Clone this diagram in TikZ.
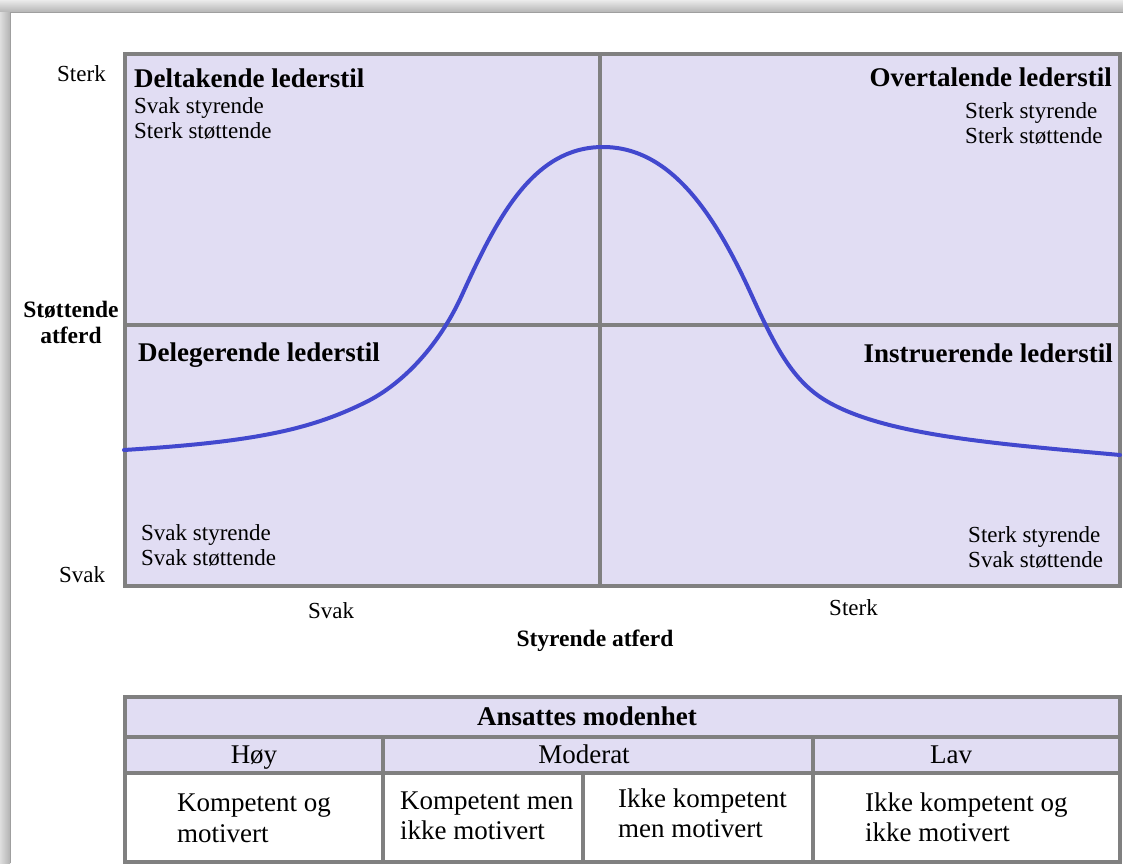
\documentclass[tikz,border=0pt]{standalone}
\usepackage{fontspec}
\setmainfont{Liberation Serif}
\definecolor{lav}{RGB}{225,221,243}
\definecolor{frame}{RGB}{128,128,128}
\definecolor{curveblue}{RGB}{66,72,206}
\begin{document}
\begin{tikzpicture}[x=1pt,y=-1pt,
  ttl/.style={font=\fontsize{27}{30}\selectfont\bfseries, inner sep=0pt},
  axb/.style={font=\fontsize{23.5}{26}\selectfont\bfseries, inner sep=0pt},
  sub/.style={font=\fontsize{23}{25}\selectfont, inner sep=0pt},
  tab/.style={font=\fontsize{27}{30}\selectfont, inner sep=0pt},
  tabb/.style={font=\fontsize{27}{30}\selectfont\bfseries, inner sep=0pt},
  grid/.style={draw=frame, line width=4.5pt},
  tline/.style={draw=frame, line width=3.5pt}]
\useasboundingbox (0,0) rectangle (1123,863);
\fill[white] (0,0) rectangle (1123,863);
% window shadow
\shade[top color=gray!16, bottom color=gray!58] (0,0) rectangle (1123,12);
\shade[left color=gray!26, right color=gray!60] (0,12) rectangle (10,863);
\draw[gray!75, line width=1.2pt] (10.5,863) -- (10.5,12.5) -- (1123,12.5);
% chart
\fill[lav] (125,54) rectangle (1120,586);
\draw[grid] (600,54) -- (600,586);
\draw[grid] (125,325) -- (1120,325);
\draw[grid] (125,54) rectangle (1120,586);
% curve
\draw[curveblue, line width=4pt, line cap=round]
  (124,450) .. controls (250,442) and (310,431) .. (370,400)
  .. controls (400,384) and (437,350) .. (462,295)
  .. controls (497,218) and (533,147) .. (603,147)
  .. controls (673,147) and (717,219) .. (752,296)
  .. controls (777,351) and (795,384) .. (830,403)
  .. controls (890,436) and (1000,444) .. (1120,455);
% quadrant texts
\node[ttl, anchor=base west] (q1t) at (134,87) {Deltakende lederstil};
\node[sub, anchor=base west] (q1a) at (134,113) {Svak styrende};
\node[sub, anchor=base west] (q1b) at (134,138) {Sterk støttende};
\node[ttl, anchor=base east] (q2t) at (1112,86) {Overtalende lederstil};
\node[sub, anchor=base west] (q2a) at (965,118) {Sterk styrende};
\node[sub, anchor=base west] (q2b) at (965,143) {Sterk støttende};
\node[ttl, anchor=base west] (q3t) at (138,361) {Delegerende lederstil};
\node[sub, anchor=base west] (q3a) at (141,540) {Svak styrende};
\node[sub, anchor=base west] (q3b) at (141,565) {Svak støttende};
\node[ttl, anchor=base east] (q4t) at (1113,362) {Instruerende lederstil};
\node[sub, anchor=base west] (q4a) at (968,542) {Sterk styrende};
\node[sub, anchor=base west] (q4b) at (968,567) {Svak støttende};
% axis labels
\node[sub, anchor=base west] (ysterk) at (57,81) {Sterk};
\node[sub, anchor=base west] (ysvak) at (59,582) {Svak};
\node[axb, anchor=base] (yl1) at (71,317) {Støttende};
\node[axb, anchor=base] (yl2) at (71,343) {atferd};
\node[sub, anchor=base west] (xsvak) at (308,618) {Svak};
\node[sub, anchor=base west] (xsterk) at (829,615) {Sterk};
\node[axb, anchor=base] (xl) at (595,646) {Styrende atferd};
% table
\fill[lav] (125,697) rectangle (1120,773);
\draw[tline] (125,737) -- (1120,737);
\draw[tline] (125,773) -- (1120,773);
\draw[tline] (383,737) -- (383,862);
\draw[tline] (813,737) -- (813,862);
\draw[tline] (583,773) -- (583,862);
\draw[grid] (125,697) rectangle (1120,862);
\node[tabb, anchor=base] (th) at (587,725) {Ansattes modenhet};
\node[tab, anchor=base] (hoy) at (254,763) {Høy};
\node[tab, anchor=base] (mod) at (584,763) {Moderat};
\node[tab, anchor=base] (lav) at (951,763) {Lav};
\node[tab, anchor=base west] (c1a) at (177,811) {Kompetent og};
\node[tab, anchor=base west] (c1b) at (177,842) {motivert};
\node[tab, anchor=base west] (c2a) at (400,809) {Kompetent men};
\node[tab, anchor=base west] (c2b) at (400,839) {ikke motivert};
\node[tab, anchor=base west] (c3a) at (618,807) {Ikke kompetent};
\node[tab, anchor=base west] (c3b) at (618,837) {men motivert};
\node[tab, anchor=base west] (c4a) at (865,811) {Ikke kompetent og};
\node[tab, anchor=base west] (c4b) at (865,841) {ikke motivert};
\end{tikzpicture}
\end{document}
